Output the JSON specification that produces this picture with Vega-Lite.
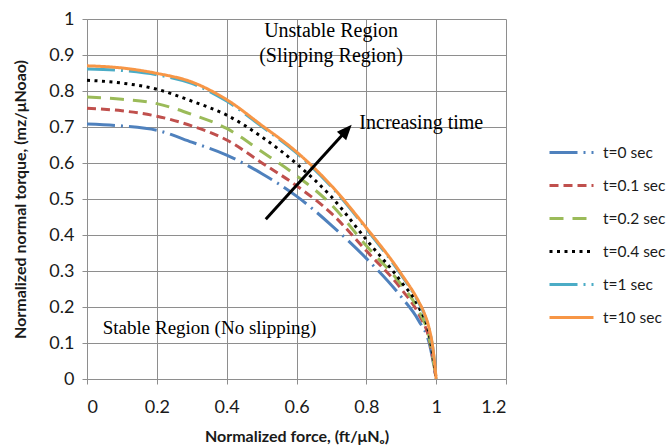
{
  "$schema": "https://vega.github.io/schema/vega-lite/v6.json",
  "width": 419,
  "height": 360,
  "autosize": {"type": "none"},
  "padding": {"left": 87, "top": 19, "right": 164, "bottom": 68},
  "background": "white",
  "config": {
    "view": {"stroke": null},
    "font": "Lato",
    "axis": {
      "gridColor": "#8e8e8e",
      "gridWidth": 1,
      "domainColor": "#8e8e8e",
      "tickColor": "#8e8e8e",
      "tickSize": 5,
      "labelFont": "Lato",
      "labelFontSize": 18,
      "labelColor": "#1a1a1a",
      "titleFont": "Lato",
      "titleFontSize": 16,
      "titleFontWeight": "bold",
      "titleColor": "#1a1a1a"
    }
  },
  "datasets": {
    "curves": [
      {"t": "t=0 sec", "f": 0, "m": 0.708},
      {"t": "t=0 sec", "f": 0.1, "m": 0.703},
      {"t": "t=0 sec", "f": 0.2, "m": 0.691},
      {"t": "t=0 sec", "f": 0.3, "m": 0.658},
      {"t": "t=0 sec", "f": 0.4, "m": 0.622},
      {"t": "t=0 sec", "f": 0.5, "m": 0.571},
      {"t": "t=0 sec", "f": 0.6, "m": 0.508},
      {"t": "t=0 sec", "f": 0.7, "m": 0.427},
      {"t": "t=0 sec", "f": 0.8, "m": 0.335},
      {"t": "t=0 sec", "f": 0.9, "m": 0.228},
      {"t": "t=0 sec", "f": 0.95, "m": 0.162},
      {"t": "t=0 sec", "f": 0.98, "m": 0.1},
      {"t": "t=0 sec", "f": 1, "m": 0},
      {"t": "t=0.1 sec", "f": 0, "m": 0.752},
      {"t": "t=0.1 sec", "f": 0.1, "m": 0.745},
      {"t": "t=0.1 sec", "f": 0.2, "m": 0.73},
      {"t": "t=0.1 sec", "f": 0.3, "m": 0.703},
      {"t": "t=0.1 sec", "f": 0.4, "m": 0.664},
      {"t": "t=0.1 sec", "f": 0.5, "m": 0.601},
      {"t": "t=0.1 sec", "f": 0.6, "m": 0.537},
      {"t": "t=0.1 sec", "f": 0.7, "m": 0.46},
      {"t": "t=0.1 sec", "f": 0.8, "m": 0.356},
      {"t": "t=0.1 sec", "f": 0.9, "m": 0.25},
      {"t": "t=0.1 sec", "f": 0.95, "m": 0.18},
      {"t": "t=0.1 sec", "f": 0.98, "m": 0.11},
      {"t": "t=0.1 sec", "f": 1, "m": 0},
      {"t": "t=0.2 sec", "f": 0, "m": 0.783},
      {"t": "t=0.2 sec", "f": 0.1, "m": 0.777},
      {"t": "t=0.2 sec", "f": 0.2, "m": 0.765},
      {"t": "t=0.2 sec", "f": 0.3, "m": 0.735},
      {"t": "t=0.2 sec", "f": 0.4, "m": 0.696},
      {"t": "t=0.2 sec", "f": 0.5, "m": 0.632},
      {"t": "t=0.2 sec", "f": 0.6, "m": 0.565},
      {"t": "t=0.2 sec", "f": 0.7, "m": 0.484},
      {"t": "t=0.2 sec", "f": 0.8, "m": 0.37},
      {"t": "t=0.2 sec", "f": 0.9, "m": 0.262},
      {"t": "t=0.2 sec", "f": 0.95, "m": 0.19},
      {"t": "t=0.2 sec", "f": 0.98, "m": 0.115},
      {"t": "t=0.2 sec", "f": 1, "m": 0},
      {"t": "t=0.4 sec", "f": 0, "m": 0.83},
      {"t": "t=0.4 sec", "f": 0.1, "m": 0.822},
      {"t": "t=0.4 sec", "f": 0.2, "m": 0.805},
      {"t": "t=0.4 sec", "f": 0.3, "m": 0.772},
      {"t": "t=0.4 sec", "f": 0.4, "m": 0.733},
      {"t": "t=0.4 sec", "f": 0.5, "m": 0.673},
      {"t": "t=0.4 sec", "f": 0.6, "m": 0.598},
      {"t": "t=0.4 sec", "f": 0.7, "m": 0.506},
      {"t": "t=0.4 sec", "f": 0.8, "m": 0.387},
      {"t": "t=0.4 sec", "f": 0.9, "m": 0.27},
      {"t": "t=0.4 sec", "f": 0.95, "m": 0.2},
      {"t": "t=0.4 sec", "f": 0.98, "m": 0.125},
      {"t": "t=0.4 sec", "f": 1, "m": 0},
      {"t": "t=1 sec", "f": 0, "m": 0.861},
      {"t": "t=1 sec", "f": 0.1, "m": 0.857},
      {"t": "t=1 sec", "f": 0.2, "m": 0.845},
      {"t": "t=1 sec", "f": 0.3, "m": 0.821},
      {"t": "t=1 sec", "f": 0.4, "m": 0.772},
      {"t": "t=1 sec", "f": 0.5, "m": 0.702},
      {"t": "t=1 sec", "f": 0.6, "m": 0.628},
      {"t": "t=1 sec", "f": 0.7, "m": 0.534},
      {"t": "t=1 sec", "f": 0.8, "m": 0.417},
      {"t": "t=1 sec", "f": 0.9, "m": 0.289},
      {"t": "t=1 sec", "f": 0.95, "m": 0.212},
      {"t": "t=1 sec", "f": 0.965, "m": 0.182},
      {"t": "t=1 sec", "f": 0.98, "m": 0.138},
      {"t": "t=1 sec", "f": 0.99, "m": 0.088},
      {"t": "t=1 sec", "f": 1, "m": 0},
      {"t": "t=10 sec", "f": 0, "m": 0.87},
      {"t": "t=10 sec", "f": 0.1, "m": 0.864},
      {"t": "t=10 sec", "f": 0.2, "m": 0.849},
      {"t": "t=10 sec", "f": 0.3, "m": 0.825},
      {"t": "t=10 sec", "f": 0.4, "m": 0.776},
      {"t": "t=10 sec", "f": 0.5, "m": 0.705},
      {"t": "t=10 sec", "f": 0.6, "m": 0.631},
      {"t": "t=10 sec", "f": 0.7, "m": 0.537},
      {"t": "t=10 sec", "f": 0.8, "m": 0.42},
      {"t": "t=10 sec", "f": 0.9, "m": 0.292},
      {"t": "t=10 sec", "f": 0.95, "m": 0.215},
      {"t": "t=10 sec", "f": 0.965, "m": 0.185},
      {"t": "t=10 sec", "f": 0.98, "m": 0.14},
      {"t": "t=10 sec", "f": 0.99, "m": 0.09},
      {"t": "t=10 sec", "f": 1, "m": 0}
    ],
    "labelsCenter": [
      {"f": 0.699, "m": 0.951, "label": "Unstable Region"},
      {"f": 0.699, "m": 0.881, "label": "(Slipping Region)"}
    ],
    "labelsLeft": [
      {"f": 0.78, "m": 0.694, "label": "Increasing time", "s": 20},
      {"f": 0.045, "m": 0.124, "label": "Stable Region (No slipping)", "s": 19}
    ],
    "arrowLine": [
      {"f": 0.512, "m": 0.444, "f2": 0.735, "m2": 0.682}
    ],
    "arrowHead": [
      {"f": 0.758, "m": 0.706}
    ]
  },
  "encoding": {
    "x": {
      "field": "f",
      "type": "quantitative",
      "scale": {"domain": [0, 1.2], "nice": false, "zero": false},
      "axis": {
        "values": [0, 0.2, 0.4, 0.6, 0.8, 1, 1.2],
        "format": "~g",
        "labelPadding": 14,
        "titlePadding": 12,
        "title": "Normalized force, (ft/μNₒ)"
      }
    },
    "y": {
      "field": "m",
      "type": "quantitative",
      "scale": {"domain": [0, 1], "nice": false, "zero": false},
      "axis": {
        "values": [0, 0.1, 0.2, 0.3, 0.4, 0.5, 0.6, 0.7, 0.8, 0.9, 1],
        "format": "~g",
        "labelPadding": 8,
        "titlePadding": 20,
        "title": "Normalized normal torque, (mz/μNoao)"
      }
    }
  },
  "layer": [
    {
      "data": {"name": "curves"},
      "mark": {"type": "line", "strokeWidth": 3, "strokeCap": "butt", "interpolate": "monotone"},
      "encoding": {
        "color": {
          "field": "t",
          "type": "nominal",
          "scale": {
            "domain": ["t=0 sec", "t=0.1 sec", "t=0.2 sec", "t=0.4 sec", "t=1 sec", "t=10 sec"],
            "range": ["#4F81BD", "#C0504D", "#9BBB59", "#000000", "#4BACC6", "#F79646"]
          },
          "legend": {
            "title": null,
            "orient": "none",
            "legendX": 461,
            "legendY": 110,
            "symbolType": "stroke",
            "symbolSize": 1936,
            "symbolStrokeWidth": 3,
            "labelFont": "Lato",
            "labelFontSize": 15.5,
            "labelColor": "#1a1a1a",
            "labelOffset": 8,
            "rowPadding": 1
          }
        },
        "strokeDash": {
          "field": "t",
          "type": "nominal",
          "scale": {
            "domain": ["t=0 sec", "t=0.1 sec", "t=0.2 sec", "t=0.4 sec", "t=1 sec", "t=10 sec"],
            "range": [[28, 6, 2, 6], [9, 5], [14, 9], [3, 4.5], [28, 6, 2, 6], [1, 0]]
          },
          "legend": {
            "title": null,
            "orient": "none",
            "legendX": 461,
            "legendY": 110,
            "symbolType": "stroke",
            "symbolSize": 1936,
            "symbolStrokeWidth": 3,
            "labelFont": "Lato",
            "labelFontSize": 15.5,
            "labelColor": "#1a1a1a",
            "labelOffset": 8,
            "rowPadding": 1
          }
        }
      }
    },
    {
      "data": {"name": "labelsCenter"},
      "mark": {"type": "text", "font": "Liberation Serif", "fontSize": 20, "align": "center", "baseline": "alphabetic", "color": "#000000"},
      "encoding": {"text": {"field": "label"}}
    },
    {
      "data": {"name": "labelsLeft"},
      "mark": {"type": "text", "font": "Liberation Serif", "align": "left", "baseline": "alphabetic", "color": "#000000"},
      "encoding": {
        "text": {"field": "label"},
        "size": {"field": "s", "type": "quantitative", "scale": null}
      }
    },
    {
      "data": {"name": "arrowLine"},
      "mark": {"type": "rule", "strokeWidth": 3, "color": "#000000"},
      "encoding": {
        "x2": {"field": "f2"},
        "y2": {"field": "m2"}
      }
    },
    {
      "data": {"name": "arrowHead"},
      "mark": {"type": "point", "shape": "M0,0 L-0.42,1 L0.42,1 Z", "filled": true, "color": "#000000", "opacity": 1, "size": 900, "angle": 42.5},
      "encoding": {}
    }
  ]
}
